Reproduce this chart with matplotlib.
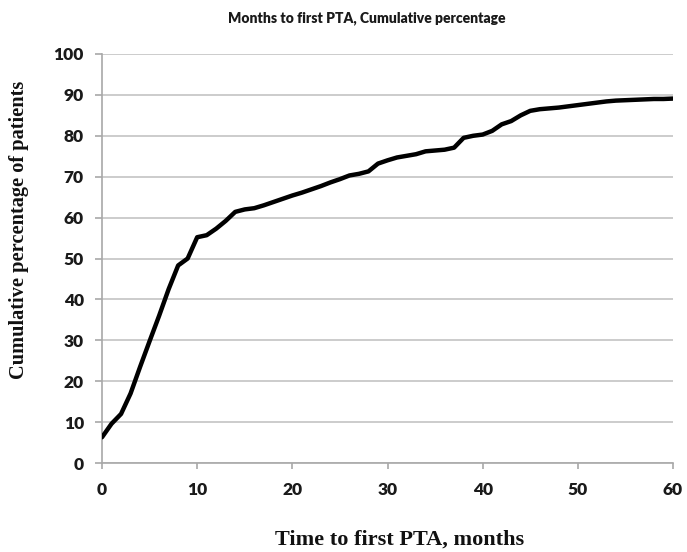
import matplotlib
matplotlib.use('Agg')
import matplotlib.pyplot as plt
import numpy as np

# Cumulative percentage of patients having their first PTA, by month
months = list(range(0, 61))
cum_pct = [6.3, 9.6, 12.0, 17.0, 23.5, 29.8, 36.0, 42.5, 48.3, 50.0,
           55.2, 55.7, 57.3, 59.2, 61.4, 62.0, 62.3, 63.0, 63.8, 64.6,
           65.4, 66.1, 66.9, 67.7, 68.6, 69.4, 70.3, 70.7, 71.3, 73.2,
           74.0, 74.7, 75.1, 75.5, 76.2, 76.4, 76.6, 77.1, 79.5, 80.0,
           80.3, 81.2, 82.8, 83.6, 85.0, 86.1, 86.5, 86.7, 86.9, 87.2,
           87.5, 87.8, 88.1, 88.4, 88.6, 88.7, 88.8, 88.9, 89.0, 89.0,
           89.1]
x_ticks = [0, 10, 20, 30, 40, 50, 60]
y_ticks = [0, 10, 20, 30, 40, 50, 60, 70, 80, 90, 100]

fig = plt.figure(figsize=(6.87, 5.52), dpi=100)
ax = fig.add_axes([0.1485, 0.1612, 0.8311, 0.741])

ax.plot(months, cum_pct, color='black', linewidth=3.2,
        solid_joinstyle='round', solid_capstyle='round', zorder=3)

ax.set_xlim(0, 60)
ax.set_ylim(0, 100)
ax.set_xticks(x_ticks)
ax.set_yticks(y_ticks)
ax.yaxis.grid(True, color='#c4c4c4', linewidth=1.2)
ax.set_axisbelow(True)

for side in ['top', 'right']:
    ax.spines[side].set_visible(False)
for side in ['left', 'bottom']:
    ax.spines[side].set_color('#a8a8a8')
    ax.spines[side].set_linewidth(1.2)
ax.tick_params(axis='both', colors='#a8a8a8', width=1.2,
               labelcolor='#1a1a1a', labelsize=12.5)
ax.tick_params(axis='x', length=4, pad=10)
ax.tick_params(axis='y', length=5, pad=8)
for lbl in ax.get_xticklabels() + ax.get_yticklabels():
    lbl.set_fontfamily('Lato')
    lbl.set_fontweight('heavy')

fig.text(0.534, 0.967, 'Months to first PTA, Cumulative percentage',
         ha='center', va='center', fontsize=10, fontweight='heavy',
         family='Lato', color='#1a1a1a')
fig.text(0.028, 0.583, 'Cumulative percentage of patients', rotation=90,
         ha='center', va='center', fontsize=14.7, fontweight='bold',
         family='Liberation Serif', color='#111111')
fig.text(0.582, 0.022, 'Time to first PTA, months', ha='center',
         va='center', fontsize=16, fontweight='bold',
         family='Liberation Serif', color='#111111')

fig.savefig('out.png', dpi=100)
